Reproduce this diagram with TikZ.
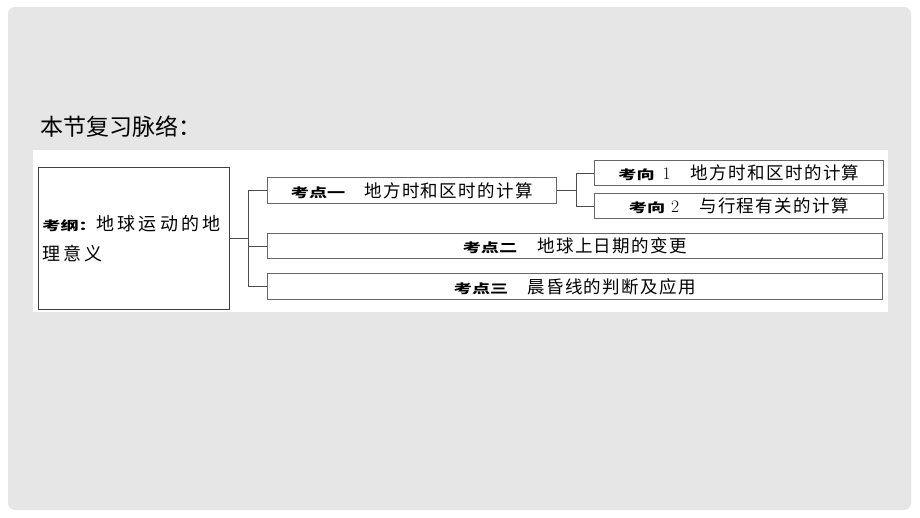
\documentclass[tikz,border=0pt]{standalone}
\usepackage{fontspec}
\newfontfamily\cjk[LetterSpace=8]{Noto Sans CJK SC}
\newfontfamily\cjkwide[LetterSpace=17]{Noto Sans CJK SC}
\newfontfamily\cjktitle{Noto Sans CJK SC}
\newfontfamily\kaobf[FakeStretch=1.45]{Noto Sans CJK SC}
\newcommand{\kao}[1]{{\kaobf\bfseries\fontsize{12.5}{12.5}\selectfont #1}}
\definecolor{slidegray}{RGB}{230,230,230}
\begin{document}
\begin{tikzpicture}[x=1pt,y=-1pt]
        \tikzstyle{kbox}=[draw=black!60,line width=0.9pt,fill=white,inner sep=0pt,anchor=north west,font=\cjk\fontsize{17.5}{17.5}\selectfont]
        \tikzstyle{link}=[draw=black!70,line width=0.8pt]
        \useasboundingbox (0,0) rectangle (920,518);
        \fill[white] (0,0) rectangle (920,518);
        \fill[slidegray,rounded corners=7pt] (8,7) rectangle (911,510);
       \begin{scope}
         \node [anchor=west,inner sep=0pt,font=\cjktitle\fontsize{23}{23}\selectfont] (title) at (40,127) {本节复习脉络：};
         \node [fill=white,inner sep=0pt,anchor=north west,minimum width=855pt,minimum height=162pt] (panel) at (33,150) {};
         \node [kbox,draw=black!75,minimum width=191pt,minimum height=142pt,text width=183pt,align=left,inner xsep=4pt,font=\cjkwide\fontsize{18}{30}\selectfont] (gang) at (38,167) {\kao{考纲：}地球运动的地\\理意义};
         \node [kbox,minimum width=289pt,minimum height=26pt] (kd1) at (267,177) {\kao{考点一}\hspace{19pt}地方时和区时的计算};
         \node [kbox,minimum width=289pt,minimum height=25pt] (kx1) at (594,160) {\kao{考向}\hspace{8pt}{\rmfamily 1}\hspace{20pt}地方时和区时的计算};
         \node [kbox,minimum width=289pt,minimum height=25pt] (kx2) at (594,193) {\kao{考向}\hspace{6pt}{\rmfamily 2}\hspace{20pt}与行程有关的计算};
         \node [kbox,minimum width=615pt,minimum height=25pt] (kd2) at (267,233) {\kao{考点二}\hspace{20pt}地球上日期的变更};
         \node [kbox,minimum width=615pt,minimum height=26pt] (kd3) at (267,273) {\kao{考点三}\hspace{19pt}晨昏线的判断及应用};
         \path[link] (gang.east) -- ++(18,0) |- (kd1.west);
         \path[link] (gang.east) -- ++(18,0) |- (kd2.west);
         \path[link] (gang.east) -- ++(18,0) |- (kd3.west);
         \path[link] (kd1.east) -- ++(19,0) |- (kx1.west);
         \path[link] (kd1.east) -- ++(19,0) |- (kx2.west);
        \end{scope}
      \end{tikzpicture}
\end{document}
